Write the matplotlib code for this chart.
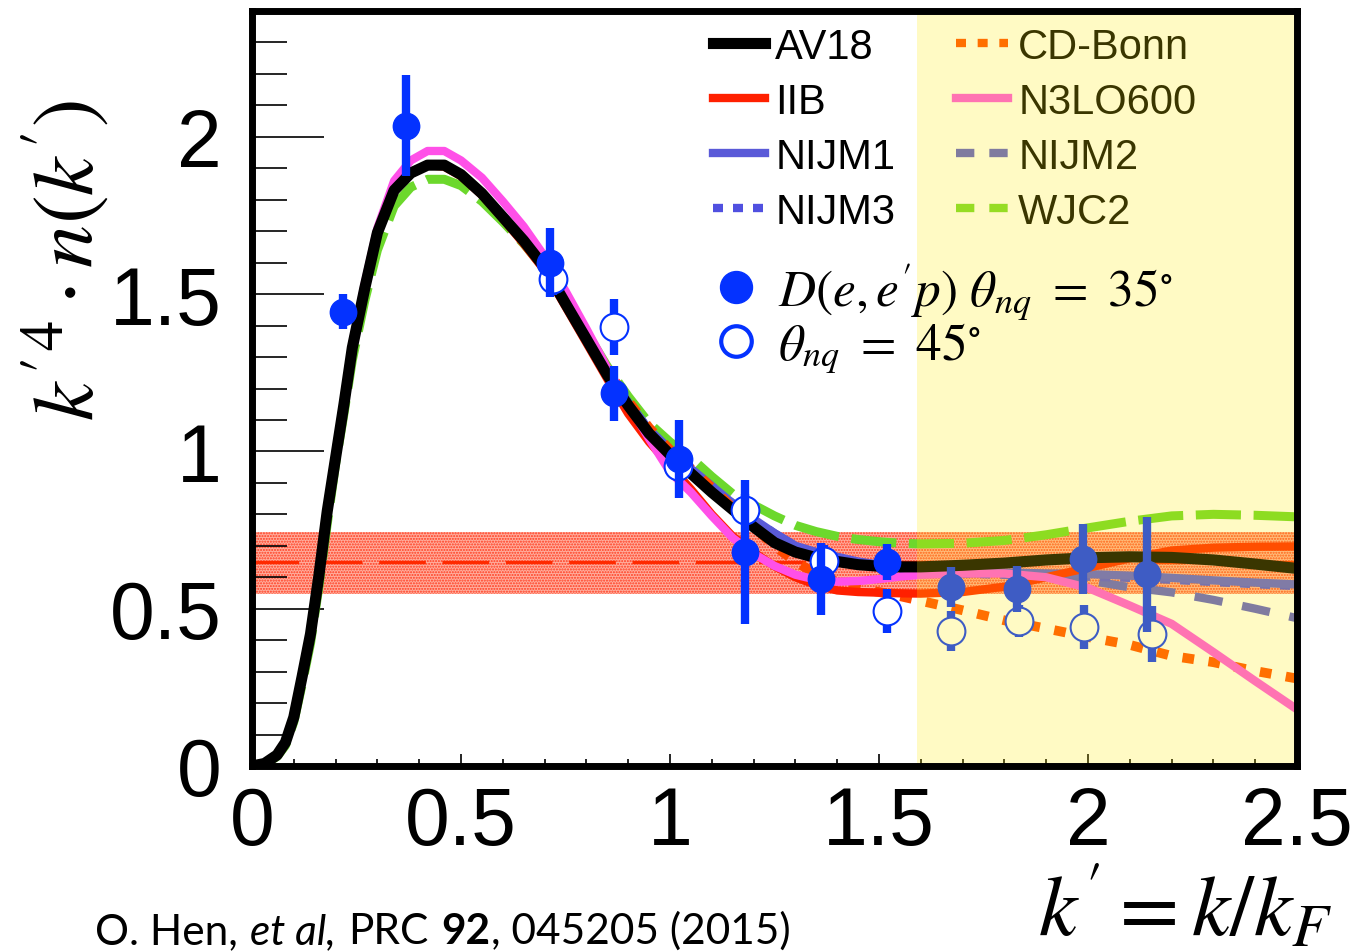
import matplotlib
matplotlib.use("Agg")
import matplotlib.pyplot as plt
from matplotlib.lines import Line2D
from matplotlib.offsetbox import AnchoredOffsetbox, HPacker, TextArea
from matplotlib.ticker import MultipleLocator

plt.rcParams["font.family"] = ["Liberation Sans", "DejaVu Sans"]
plt.rcParams["mathtext.fontset"] = "stix"
plt.rcParams["hatch.linewidth"] = 1.0

# momentum grid k' = k/kF
kp = [0.00, 0.03, 0.06, 0.08, 0.10, 0.12, 0.14, 0.16, 0.18, 0.20,
      0.22, 0.24, 0.27, 0.30, 0.34, 0.38, 0.42, 0.46, 0.50, 0.55,
      0.60, 0.65, 0.70, 0.75, 0.80, 0.85, 0.90, 0.95, 1.00, 1.05,
      1.10, 1.15, 1.20, 1.25, 1.30, 1.35, 1.40, 1.45, 1.50, 1.55,
      1.60, 1.70, 1.80, 1.90, 2.00, 2.10, 2.20, 2.30, 2.40, 2.50]

av18 = [0.0, 0.008, 0.035, 0.075, 0.155, 0.285, 0.42, 0.605, 0.81, 0.98,
        1.15, 1.33, 1.52, 1.695, 1.83, 1.885, 1.91, 1.91, 1.88, 1.82,
        1.745, 1.67, 1.585, 1.47, 1.357, 1.243, 1.146, 1.057, 0.99, 0.93,
        0.87, 0.815, 0.76, 0.71, 0.68, 0.662, 0.65, 0.64, 0.635, 0.633,
        0.633, 0.638, 0.645, 0.655, 0.662, 0.665, 0.663, 0.655, 0.642, 0.628]

iib = [0.0, 0.008, 0.035, 0.075, 0.155, 0.285, 0.42, 0.605, 0.81, 0.98,
       1.15, 1.33, 1.52, 1.695, 1.83, 1.885, 1.91, 1.905, 1.875, 1.815,
       1.74, 1.66, 1.575, 1.46, 1.345, 1.23, 1.12, 1.03, 0.955, 0.88,
       0.80, 0.73, 0.68, 0.635, 0.60, 0.575, 0.558, 0.553, 0.551, 0.549,
       0.548, 0.553, 0.57, 0.60, 0.63, 0.66, 0.685, 0.694, 0.697, 0.698]

cdbonn = [0.0, 0.008, 0.035, 0.075, 0.155, 0.285, 0.42, 0.605, 0.81, 0.98,
          1.15, 1.33, 1.52, 1.695, 1.83, 1.885, 1.91, 1.91, 1.88, 1.82,
          1.745, 1.67, 1.59, 1.485, 1.375, 1.26, 1.16, 1.075, 1.005, 0.945,
          0.885, 0.82, 0.76, 0.70, 0.65, 0.61, 0.585, 0.565, 0.553, 0.54,
          0.525, 0.495, 0.463, 0.437, 0.41, 0.385, 0.35, 0.33, 0.302, 0.278]

n3lo600 = [0.0, 0.008, 0.035, 0.075, 0.155, 0.285, 0.42, 0.605, 0.81, 0.985,
           1.16, 1.34, 1.535, 1.71, 1.86, 1.925, 1.955, 1.955, 1.925, 1.87,
           1.795, 1.715, 1.62, 1.51, 1.39, 1.265, 1.15, 1.04, 0.935, 0.87,
           0.795, 0.725, 0.675, 0.636, 0.608, 0.592, 0.586, 0.588, 0.594, 0.602,
           0.608, 0.612, 0.612, 0.60, 0.566, 0.51, 0.452, 0.362, 0.27, 0.18]

nijm1 = [0.0, 0.008, 0.035, 0.075, 0.155, 0.285, 0.42, 0.605, 0.81, 0.98,
         1.15, 1.33, 1.52, 1.695, 1.83, 1.885, 1.91, 1.91, 1.88, 1.82,
         1.75, 1.675, 1.59, 1.48, 1.365, 1.255, 1.155, 1.07, 1.005, 0.945,
         0.89, 0.835, 0.785, 0.74, 0.70, 0.68, 0.665, 0.65, 0.64, 0.63,
         0.622, 0.617, 0.615, 0.612, 0.61, 0.605, 0.598, 0.59, 0.583, 0.577]

nijm2 = [0.0, 0.008, 0.035, 0.075, 0.155, 0.285, 0.42, 0.605, 0.81, 0.98,
         1.15, 1.33, 1.52, 1.695, 1.83, 1.885, 1.91, 1.91, 1.88, 1.82,
         1.75, 1.675, 1.59, 1.48, 1.365, 1.255, 1.155, 1.07, 1.005, 0.945,
         0.89, 0.835, 0.785, 0.74, 0.70, 0.678, 0.662, 0.648, 0.638, 0.628,
         0.62, 0.614, 0.61, 0.605, 0.59, 0.568, 0.552, 0.528, 0.50, 0.47]

nijm3 = [0.0, 0.008, 0.035, 0.075, 0.155, 0.285, 0.42, 0.605, 0.81, 0.98,
         1.15, 1.33, 1.52, 1.695, 1.83, 1.885, 1.91, 1.91, 1.88, 1.82,
         1.75, 1.675, 1.59, 1.48, 1.365, 1.255, 1.155, 1.07, 1.0, 0.94,
         0.885, 0.83, 0.78, 0.735, 0.695, 0.675, 0.66, 0.645, 0.635, 0.625,
         0.618, 0.612, 0.608, 0.605, 0.602, 0.598, 0.592, 0.585, 0.578, 0.572]

wjc2 = [0.0, 0.006, 0.03, 0.065, 0.14, 0.26, 0.39, 0.57, 0.77, 0.96,
        1.12, 1.29, 1.48, 1.64, 1.78, 1.84, 1.865, 1.865, 1.845, 1.795,
        1.73, 1.66, 1.58, 1.485, 1.38, 1.27, 1.175, 1.09, 1.03, 0.98,
        0.92, 0.865, 0.83, 0.795, 0.765, 0.745, 0.73, 0.72, 0.713, 0.708,
        0.706, 0.708, 0.717, 0.735, 0.757, 0.778, 0.795, 0.80, 0.797, 0.792]

# D(e,e'p) data, theta_nq = 35 deg
x35 = [0.218, 0.369, 0.714, 0.866, 1.022, 1.18, 1.362, 1.52, 1.673, 1.829, 1.989, 2.14]
y35 = [1.444, 2.035, 1.60, 1.185, 0.976, 0.68, 0.595, 0.648, 0.569, 0.563, 0.658, 0.61]
e35 = [0.055, 0.16, 0.11, 0.088, 0.125, 0.23, 0.115, 0.057, 0.064, 0.072, 0.111, 0.183]

# theta_nq = 45 deg
x45 = [0.719, 0.866, 1.02, 1.18, 1.369, 1.52, 1.673, 1.834, 1.99, 2.152]
y45 = [1.548, 1.396, 0.955, 0.815, 0.652, 0.493, 0.43, 0.461, 0.442, 0.42]
e45 = [0.05, 0.09, 0.05, 0.05, 0.05, 0.07, 0.064, 0.05, 0.07, 0.088]

# scaling band (mean and spread)
band_mean = 0.648
band_lo = 0.547
band_hi = 0.744
high_k = 1.59

blue = "#0432ff"
nijm2_col = "#5a5ad0"

fig = plt.figure(figsize=(13.6, 9.53), dpi=100)
ax = fig.add_axes([252 / 1360, 1 - 767 / 953, 1045 / 1360, 755 / 953])

ax.fill_between([0, 2.5], [band_lo, band_lo], [band_hi, band_hi],
                facecolor="#ffae9e", edgecolor="#ff3a1e", hatch="......",
                linewidth=0, zorder=1)
ax.plot([0, 2.5], [band_mean, band_mean], color="#ff2a00", lw=2.4,
        dashes=(14, 5), zorder=2)

ax.plot(kp, wjc2, color="#6cd82c", lw=6.5, dashes=(5, 1.4), zorder=3)
ax.plot(kp, nijm2, color=nijm2_col, lw=6, dashes=(3.4, 2.4), zorder=3)
ax.plot(kp, nijm3, color="#5050e0", lw=6, dashes=(1.2, 1.2), zorder=3)
ax.plot(kp, nijm1, color="#5a5ad8", lw=6, zorder=3)
ax.plot(kp, cdbonn, color="#ff4a00", lw=7, dashes=(1.2, 1.5), zorder=3)
ax.plot(kp, iib, color="#ff2000", lw=6, zorder=3)
ax.plot(kp, n3lo600, color="#ff50e8", lw=6, zorder=3)
ax.plot(kp, av18, color="black", lw=8, zorder=4)

ax.errorbar(x45, y45, yerr=e45, fmt="o", ms=20, mfc="white", mec=blue,
            mew=1.5, color=blue, elinewidth=6, capsize=0, zorder=5)
ax.errorbar(x35, y35, yerr=e35, fmt="o", ms=19, color=blue,
            elinewidth=6, capsize=0, zorder=6)

ax.axvspan(high_k, 2.5, color=(1, 0.92, 0), alpha=0.23, lw=0, zorder=10)

ax.set_xlim(0, 2.5)
ax.set_ylim(0, 2.4)
ax.xaxis.set_minor_locator(MultipleLocator(0.1))
ax.yaxis.set_minor_locator(MultipleLocator(0.1))
ax.set_xticks([0, 0.5, 1, 1.5, 2, 2.5])
ax.set_xticklabels(["0", "0.5", "1", "1.5", "2", "2.5"])
ax.set_yticks([0, 0.5, 1, 1.5, 2])
ax.set_yticklabels(["0", "0.5", "1", "1.5", "2"])
ax.tick_params(axis="both", which="both", direction="in", top=False, right=False,
               labelsize=58, width=1.2, color="black")
ax.tick_params(axis="y", which="major", length=52, pad=22)
ax.tick_params(axis="y", which="minor", length=25)
ax.tick_params(axis="x", which="major", length=9, pad=14)
ax.tick_params(axis="x", which="minor", length=5)
for s in ax.spines.values():
    s.set_linewidth(5)
    s.set_zorder(12)

# model legend (under the shaded high-k region)
handles = [
    Line2D([], [], color="black", lw=8),
    Line2D([], [], color="#ff2000", lw=6),
    Line2D([], [], color="#5a5ad8", lw=6),
    Line2D([], [], color="#5050e0", lw=6, dashes=(1.2, 1.2)),
    Line2D([], [], color="#ff4a00", lw=6, dashes=(1.2, 1.4)),
    Line2D([], [], color="#ff50e8", lw=6),
    Line2D([], [], color=nijm2_col, lw=6, dashes=(2.2, 1.8)),
    Line2D([], [], color="#77d830", lw=6, dashes=(2.2, 1.8)),
]
labels = ["AV18", "IIB", "NIJM1", "NIJM3", "CD-Bonn", "N3LO600", "NIJM2", "WJC2"]
leg1 = ax.legend(handles, labels, ncol=2, loc="upper left",
                 bbox_to_anchor=(0.441, 0.979), frameon=False, fontsize=30,
                 handlelength=1.25, handletextpad=0.25, columnspacing=1.45,
                 labelspacing=0.36, borderpad=0, borderaxespad=0)
leg1.set_zorder(5)
ax.add_artist(leg1)

data_handles = [
    Line2D([], [], ls="none", marker="o", ms=23, color=blue),
    Line2D([], [], ls="none", marker="o", ms=22, mfc="white", mec=blue, mew=3),
]
data_labels = [r"$D(e,e'p)\ \theta_{nq}\ =\ 35^{\circ}$",
               r"$\theta_{nq}\ =\ 45^{\circ}$"]
leg2 = ax.legend(data_handles, data_labels, loc="upper left",
                 bbox_to_anchor=(0.442, 0.67), frameon=False, fontsize=37,
                 handlelength=0.85, handletextpad=0.4, labelspacing=0.0,
                 borderpad=0, borderaxespad=0)
leg2.set_zorder(30)

fig.text(66 / 1360, 1 - 260 / 953, r"$k'^{4}\cdot n(k')$", rotation=90,
         fontsize=62, ha="center", va="center")
fig.text(1185 / 1360, 1 - 910 / 953, r"$k' = k/k_F$", fontsize=62,
         ha="center", va="center")

cite_props = dict(fontsize=30.5, family="Lato")
cite = HPacker(children=[
    TextArea("O. Hen,", textprops=cite_props),
    TextArea("et al,", textprops=dict(cite_props, style="italic")),
    TextArea("PRC", textprops=cite_props),
    HPacker(children=[
        TextArea("92", textprops=dict(cite_props, weight="bold")),
        TextArea(", 045205 (2015)", textprops=cite_props),
    ], sep=0, align="baseline"),
], sep=9, align="baseline")
anch = AnchoredOffsetbox(loc="lower left", child=cite, pad=0, borderpad=0,
                         frameon=False, bbox_to_anchor=(95 / 1360, 0.002),
                         bbox_transform=fig.transFigure)
fig.add_artist(anch)

fig.savefig("out.png", dpi=100)
